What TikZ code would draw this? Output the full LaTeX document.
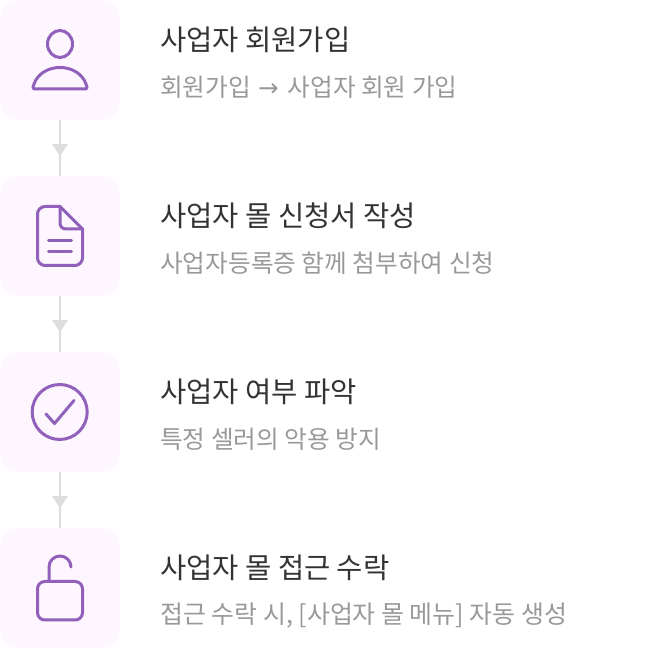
\documentclass[tikz,border=0pt]{standalone}
\usepackage{fontspec}
\setmainfont{Noto Sans CJK KR}
\newfontfamily\arrowfont{DejaVu Sans}
\usetikzlibrary{decorations.markings}
\definecolor{cardfill}{HTML}{FDF6FE}
\definecolor{iconline}{HTML}{9160BB}
\definecolor{linkgray}{HTML}{DDDDDD}
\definecolor{titletext}{HTML}{333333}
\definecolor{subtext}{HTML}{999999}
\tikzset{
    card/.style={fill=cardfill, rounded corners=12pt, minimum size=90pt, inner sep=0pt},
    icon/.style={draw=iconline, line width=2.25pt, line cap=round, line join=round},
    link/.style={draw=linkgray, line width=1.5pt, postaction={decorate}, decoration={markings,
        mark=at position 0.5 with {\fill[linkgray] (-3pt,-6pt) -- (6pt,0pt) -- (-3pt,6pt) -- cycle;}}},
    title/.style={anchor=west, inner sep=0pt, text=titletext, font=\fontsize{21.4pt}{25pt}\selectfont},
    subtitle/.style={anchor=west, inner sep=0pt, text=subtext, font=\fontsize{18.5pt}{22pt}\selectfont},
}
\begin{document}
\begin{tikzpicture}[x=0.75pt, y=-0.75pt]
    \useasboundingbox (0,0) rectangle (672,648);
    \foreach \n/\y in {1/60,2/236,3/412,4/588}
        \node[card] (card\n) at (60,\y) {};
    \foreach \a/\b in {1/2,2/3,3/4}
        \draw[link] (card\a) -- (card\b);
    % person
    \draw[icon] (60,44) ellipse (12.5 and 13.5);
    \draw[icon] (35,89) .. controls (32,89) and (33,86) .. (34,84) .. controls (38,73) and (49,67.5) .. (60,67.5) .. controls (71,67.5) and (82,73) .. (86,84) .. controls (87,86) and (88,89) .. (85,89) -- cycle;
    % document
    \draw[icon] (60,206.5) -- (45,206.5) .. controls (41,206.5) and (37.5,210) .. (37.5,214) -- (37.5,258) .. controls (37.5,262) and (41,265.5) .. (45,265.5) -- (75,265.5) .. controls (79,265.5) and (82.5,262) .. (82.5,258) -- (82.5,229) -- cycle;
    \draw[icon] (60,206.5) -- (60,223) .. controls (60,226.5) and (62.5,229) .. (66,229) -- (82.5,229);
    \draw[icon] (48.5,240.5) -- (71.5,240.5);
    \draw[icon] (48.5,251.5) -- (71.5,251.5);
    % check
    \draw[icon] (59.7,412) circle (27.5);
    \draw[icon] (46,414) -- (54.5,423.5) -- (74,400.5);
    % lock
    \draw[icon, rounded corners=5.5pt] (37.5,581.5) rectangle (82.5,620);
    \draw[icon] (49,581.5) -- (49,567) arc (180:360:11);
    % texts
    \node[title] (title1) at (160,39.5) {사업자 회원가입};
    \node[subtitle] (sub1) at (160,87.5) {회원가입\hspace{1.2pt} {\arrowfont →}\hspace{2.5pt} 사업자 회원 가입};
    \node[title] (title2) at (160,215.5) {사업자 몰 신청서 작성};
    \node[subtitle] (sub2) at (160,263.5) {사업자등록증 함께 첨부하여 신청};
    \node[title] (title3) at (160,391.5) {사업자 여부 파악};
    \node[subtitle] (sub3) at (160,439.5) {특정 셀러의 악용 방지};
    \node[title] (title4) at (160,567.5) {사업자 몰 접근 수락};
    \node[subtitle, font=\fontsize{18.7pt}{22pt}\selectfont] (sub4) at (160,615.5) {접근 수락 시, [사업자 몰 메뉴] 자동 생성};
\end{tikzpicture}
\end{document}
